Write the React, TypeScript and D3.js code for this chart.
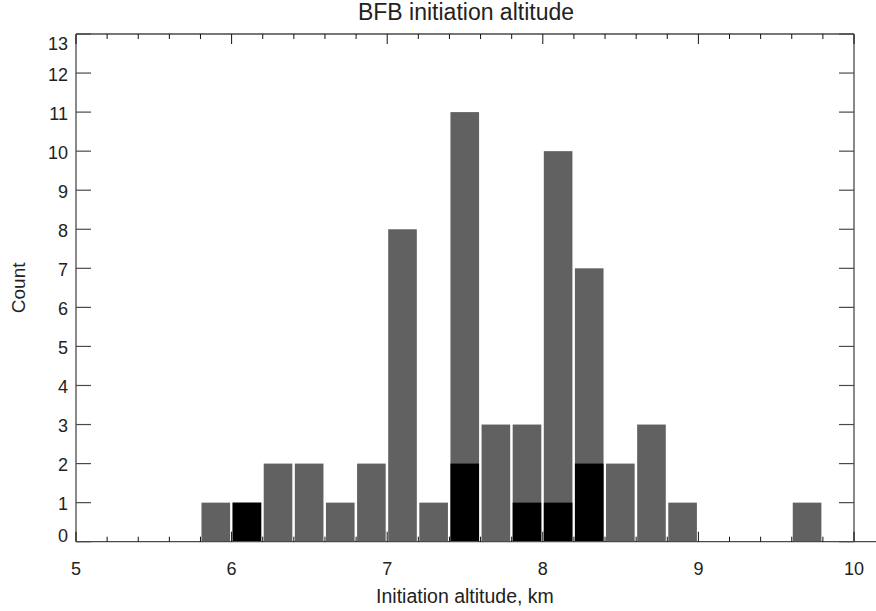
import React from "react";
import * as d3 from "d3";

// Histogram bins (lower edge, km), total counts and the highlighted subset
const binStarts = [5.8, 6.0, 6.2, 6.4, 6.6, 6.8, 7.0, 7.2, 7.4, 7.6, 7.8, 8.0, 8.2, 8.4, 8.6, 8.8, 9.6];
const totalCounts = [1, 1, 2, 2, 1, 2, 8, 1, 11, 3, 3, 10, 7, 2, 3, 1, 1];
const subsetCounts = [0, 1, 0, 0, 0, 0, 0, 0, 2, 0, 1, 1, 2, 0, 0, 0, 0];
const binWidth = 0.2;

const xTicks = [5, 6, 7, 8, 9, 10];
const yTicks = d3.range(0, 14);

const W = 876;
const H = 611;
const margin = { left: 76, right: 22, top: 34, bottom: 69.3 };

export default function App() {
  const x = d3.scaleLinear().domain([5, 10]).range([margin.left, W - margin.right]);
  const y = d3.scaleLinear().domain([0, 13]).range([H - margin.bottom, margin.top]);
  const x0 = x(5), x1 = x(10), y0 = y(0), y1 = y(13);
  const minorX = d3.range(5, 10.001, 0.2).filter((v) => Math.abs(v - Math.round(v)) > 1e-6);
  const axisColor = "#4a4a4a";
  const font = "'Liberation Sans', Arial, Helvetica, sans-serif";
  const textColor = "#222";

  return (
    <svg width={W} height={H} style={{ position: "absolute", left: 0, top: 0, background: "#fff" }}>
      {/* bars: total counts in gray, subset overlaid in black */}
      {binStarts.map((b, i) => {
        const bx = x(b) + 1;
        const bw = x(b + binWidth) - x(b) - 2.5;
        return (
          <g key={i}>
            <rect x={bx} y={y(totalCounts[i])} width={bw} height={y0 - y(totalCounts[i])} fill="#616161" />
            {subsetCounts[i] > 0 && (
              <rect x={bx} y={y(subsetCounts[i])} width={bw} height={y0 - y(subsetCounts[i])} fill="#000" />
            )}
          </g>
        );
      })}

      {/* frame */}
      <line x1={x0} x2={W} y1={y0} y2={y0} stroke={axisColor} strokeWidth={1.3} />
      <line x1={x0} x2={x1} y1={y1} y2={y1} stroke={axisColor} strokeWidth={1.3} />
      <line x1={x0} x2={x0} y1={y0} y2={y1} stroke={axisColor} strokeWidth={1.3} />
      <line x1={x1} x2={x1} y1={y0} y2={y1} stroke={axisColor} strokeWidth={1.3} />

      {/* x ticks, bottom and top, pointing inward */}
      {xTicks.map((t) => (
        <g key={"xt" + t}>
          <line x1={x(t)} x2={x(t)} y1={y0} y2={y0 - 10} stroke="#111" strokeWidth={1} />
          <line x1={x(t)} x2={x(t)} y1={y1} y2={y1 + 10} stroke="#111" strokeWidth={1} />
          <text x={x(t)} y={575} textAnchor="middle" fontFamily={font} fontSize={18} fill={textColor}>
            {t}
          </text>
        </g>
      ))}
      {minorX.map((t, i) => (
        <g key={"xm" + i}>
          <line x1={x(t)} x2={x(t)} y1={y0} y2={y0 - 5} stroke="#111" strokeWidth={1} />
          <line x1={x(t)} x2={x(t)} y1={y1} y2={y1 + 5} stroke="#111" strokeWidth={1} />
        </g>
      ))}

      {/* y ticks, left and right */}
      {yTicks.map((t) => {
        const baseline = t === 0 ? y0 + 0.5 : t === 13 ? y1 + 16 : y(t) + 7.5;
        return (
          <g key={"yt" + t}>
            <line x1={x0} x2={x0 + 15} y1={y(t)} y2={y(t)} stroke={axisColor} strokeWidth={1.2} />
            <line x1={x1} x2={x1 - 15} y1={y(t)} y2={y(t)} stroke={axisColor} strokeWidth={1.2} />
            <text x={68} y={baseline} textAnchor="end" fontFamily={font} fontSize={18} fill={textColor}>
              {t}
            </text>
          </g>
        );
      })}

      {/* titles */}
      <text x={(x0 + x1) / 2 + 1} y={20} textAnchor="middle" fontFamily={font} fontSize={23} fill={textColor}>
        BFB initiation altitude
      </text>
      <text x={(x0 + x1) / 2} y={603} textAnchor="middle" fontFamily={font} fontSize={19.5} fill={textColor}>
        Initiation altitude, km
      </text>
      <text
        transform={`translate(25, ${(y0 + y1) / 2}) rotate(-90)`}
        textAnchor="middle"
        fontFamily={font}
        fontSize={19}
        fill={textColor}
      >
        Count
      </text>
    </svg>
  );
}
